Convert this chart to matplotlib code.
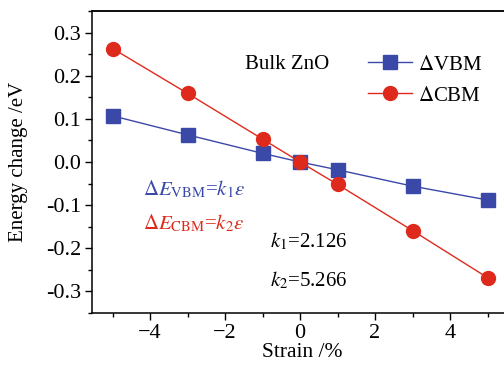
import numpy as np
import matplotlib.pyplot as plt
from matplotlib.ticker import MultipleLocator

plt.rcParams['font.family'] = 'Liberation Serif'
plt.rcParams['mathtext.fontset'] = 'stix'

strain = [-5, -3, -1, 0, 1, 3, 5]
vbm = [0.107, 0.063, 0.020, 0.0, -0.018, -0.056, -0.088]
cbm = [0.263, 0.159, 0.053, 0.0, -0.052, -0.159, -0.268]

blue = '#3a48a8'
red = '#de2a1c'

fig = plt.figure(figsize=(5.04, 3.73), dpi=100)
ax = fig.add_axes([92/504, 60/373, 412/504, 302/373])

ax.plot(strain, vbm, '-s', color=blue, lw=1, ms=10, label=r'$\Delta$VBM')
ax.plot(strain, cbm, '-o', color=red, lw=1, ms=10, label=r'$\Delta$CBM')

ax.set_xlim(-5.55, 5.44)
ax.set_ylim(-0.35, 0.35)
ax.xaxis.set_major_locator(MultipleLocator(2))
ax.xaxis.set_minor_locator(MultipleLocator(1))
ax.yaxis.set_major_locator(MultipleLocator(0.1))
ax.yaxis.set_minor_locator(MultipleLocator(0.05))
ax.yaxis.set_major_formatter(plt.FuncFormatter(lambda v, p: '%.1f' % v if abs(v) > 1e-9 else '0.0'))
ax.tick_params(which='both', direction='out', labelsize=16, width=1, pad=3)
ax.tick_params(which='major', length=5)
ax.tick_params(which='minor', length=3)
ax.spines['right'].set_visible(False)
for s in ['top', 'left', 'bottom']:
    ax.spines[s].set_linewidth(1.1)
# top border line, drawn explicitly so it shows up to the figure edge
ax.plot([0, 1], [1, 1], transform=ax.transAxes, color='#333333', lw=1.2, clip_on=False)

ax.set_xlabel('Strain /%', fontsize=15.5)
ax.set_ylabel('Energy change /eV', fontsize=15)
ax.xaxis.set_label_coords(0.51, -0.1)
ax.yaxis.set_label_coords(-0.155, 0.5)

ax.legend(loc='upper left', bbox_to_anchor=(368/504, 1 - 55/373), bbox_transform=fig.transFigure,
          frameon=False, fontsize=15, handlelength=2.1, handletextpad=0.3,
          borderpad=0, borderaxespad=0, labelspacing=0.55)

ax.text(-1.47, 0.227, 'Bulk ZnO', fontsize=15, va='center')
ax.text(-4.2, -0.0625, r'$\Delta E_{\mathrm{VBM}}$=$k_1\varepsilon$', fontsize=15,
        color=blue, va='center')
ax.text(-4.2, -0.142, r'$\Delta E_{\mathrm{CBM}}$=$k_2\varepsilon$', fontsize=15,
        color=red, va='center')
ax.text(-0.8, -0.185, r'$k_1$=2.126', fontsize=15, va='center')
ax.text(-0.8, -0.275, r'$k_2$=5.266', fontsize=15, va='center')

fig.savefig('out.png', dpi=100)
